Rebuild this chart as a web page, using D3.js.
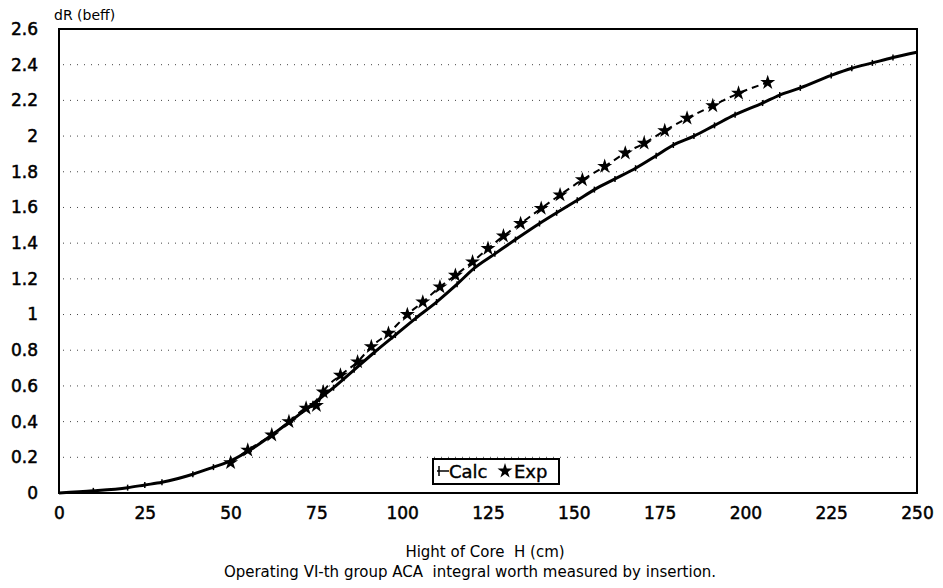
<!DOCTYPE html>
<html>
<head>
<meta charset="utf-8">
<script src="https://cdn.jsdelivr.net/npm/d3@7"></script>
<style>
  body { margin: 0; background: #fff; }
  text { font-family: "DejaVu Sans", sans-serif; fill: #000; }
</style>
</head>
<body>
<script>
// calculated curve: height of core H (cm) -> dR (beff)
const calcH = [0, 10, 20, 25, 30, 39, 45, 50, 56, 62, 68, 74, 80, 86, 92, 98, 104, 110, 116, 121, 127, 133, 140, 145, 151, 156, 162, 168, 174, 179, 185, 191, 197, 205, 210, 216, 225, 231, 237, 243, 250]
const calcR = [0, 0.012, 0.03, 0.045, 0.06, 0.105, 0.145, 0.18, 0.245, 0.325, 0.41, 0.5, 0.59, 0.69, 0.79, 0.885, 0.98, 1.07, 1.17, 1.26, 1.34, 1.42, 1.51, 1.57, 1.64, 1.70, 1.76, 1.82, 1.89, 1.95, 2.0, 2.06, 2.12, 2.185, 2.23, 2.27, 2.34, 2.38, 2.41, 2.44, 2.47]

// measured points
const expH = [50, 55, 62, 67, 72, 75, 77, 82, 87, 91, 96, 101.5, 106, 111, 115.5, 120.5, 125, 129.5, 134.5, 140.5, 146, 152.5, 159, 165, 170.5, 176.5, 183, 190.5, 198, 206.5]
const expR = [0.17, 0.24, 0.325, 0.40, 0.475, 0.49, 0.566, 0.66, 0.735, 0.82, 0.895, 1.0, 1.07, 1.155, 1.22, 1.295, 1.37, 1.44, 1.51, 1.595, 1.67, 1.755, 1.83, 1.905, 1.96, 2.03, 2.10, 2.17, 2.24, 2.30]

const xTicks = [0, 25, 50, 75, 100, 125, 150, 175, 200, 225, 250]
const yTicks = [0, 0.2, 0.4, 0.6, 0.8, 1, 1.2, 1.4, 1.6, 1.8, 2, 2.2, 2.4, 2.6]
const gridY = [0.2, 0.4, 0.6, 0.8, 1, 1.2, 1.4, 1.6, 1.8, 2, 2.2, 2.4]

const width = 943
const height = 588
const plotL = 59, plotR = 917, plotT = 29, plotB = 493

const calc = calcH.map((h, i) => ({h: h, r: calcR[i]}))
const exp = expH.map((h, i) => ({h: h, r: expR[i]}))

const sx = d3.scaleLinear().domain([0, 250]).range([plotL, plotR])
const sy = d3.scaleLinear().domain([0, 2.6]).range([plotB, plotT])

const svg = d3.select("body")
    .append("svg")
    .attr("width", width)
    .attr("height", height)

svg.append("rect")
    .attr("width", width)
    .attr("height", height)
    .attr("fill", "#fff")

// dotted grid

svg.append("g")
    .selectAll("line")
    .data(gridY)
    .enter().append("line")
    .attr("x1", plotL + 4)
    .attr("x2", plotR - 4)
    .attr("y1", d => sy(d))
    .attr("y2", d => sy(d))
    .attr("stroke", "#444")
    .attr("stroke-width", 1)
    .attr("stroke-dasharray", "1,6")

// axes

const xAxis = svg.append("g")
    .attr("transform", `translate(0,${plotB})`)
    .call(d3.axisBottom(sx).tickValues(xTicks).tickSize(0).tickPadding(14).tickFormat(d => String(d)))
xAxis.select(".domain").remove()

const yAxis = svg.append("g")
    .attr("transform", `translate(${plotL},0)`)
    .call(d3.axisLeft(sy).tickValues(yTicks).tickSize(0).tickPadding(21).tickFormat(d => String(d)))
yAxis.select(".domain").remove()

svg.selectAll(".tick text")
    .attr("font-size", 17)
    .attr("font-family", "DejaVu Sans")
    .attr("stroke", "#000")
    .attr("stroke-width", 0.5)

// frame

svg.append("rect")
    .attr("x", plotL)
    .attr("y", plotT)
    .attr("width", plotR - plotL)
    .attr("height", plotB - plotT)
    .attr("fill", "none")
    .attr("stroke", "#000")
    .attr("stroke-width", 2)

// lines

const line = d3.line()
    .x(d => sx(d.h))
    .y(d => sy(d.r))
    .curve(d3.curveMonotoneX)

svg.append("path")
    .datum(exp)
    .attr("d", line)
    .attr("fill", "none")
    .attr("stroke", "#000")
    .attr("stroke-width", 2)
    .attr("stroke-dasharray", "7,5")

svg.append("path")
    .datum(calc)
    .attr("d", line)
    .attr("fill", "none")
    .attr("stroke", "#000")
    .attr("stroke-width", 3)

svg.append("g")
    .selectAll("line")
    .data(calc.filter(d => d.h > 0 && d.h < 250))
    .enter().append("line")
    .attr("x1", d => sx(d.h))
    .attr("x2", d => sx(d.h))
    .attr("y1", d => sy(d.r) - 3)
    .attr("y2", d => sy(d.r) + 3)
    .attr("stroke", "#000")
    .attr("stroke-width", 1.5)

const star = d3.symbol().type(d3.symbolStar).size(70)

svg.append("g")
    .selectAll("path")
    .data(exp)
    .enter().append("path")
    .attr("d", star)
    .attr("transform", d => `translate(${sx(d.h)},${sy(d.r)})`)
    .attr("fill", "#000")

// legend

const lg = svg.append("g").attr("transform", "translate(433,459)")
lg.append("rect")
    .attr("width", 126)
    .attr("height", 25)
    .attr("fill", "#fff")
    .attr("stroke", "#000")
    .attr("stroke-width", 2)
lg.append("line")
    .attr("x1", 4).attr("x2", 16).attr("y1", 12).attr("y2", 12)
    .attr("stroke", "#000").attr("stroke-width", 1.5)
lg.append("line")
    .attr("x1", 6).attr("x2", 6).attr("y1", 7).attr("y2", 17)
    .attr("stroke", "#000").attr("stroke-width", 1.5)
lg.append("text")
    .attr("x", 16).attr("y", 19)
    .attr("font-size", 18)
    .attr("stroke", "#000").attr("stroke-width", 0.4)
    .text("Calc")
lg.append("path")
    .attr("d", star)
    .attr("transform", "translate(72,12)")
lg.append("text")
    .attr("x", 81).attr("y", 19)
    .attr("font-size", 18)
    .attr("stroke", "#000").attr("stroke-width", 0.4)
    .text("Exp")

// titles

svg.append("text")
    .attr("x", 54).attr("y", 20)
    .attr("font-size", 14)
    .text("dR (beff)")

svg.append("text")
    .attr("x", 485).attr("y", 557)
    .attr("text-anchor", "middle")
    .attr("font-size", 15)
    .style("white-space", "pre")
    .text("Hight of Core  H (cm)")

svg.append("text")
    .attr("x", 470).attr("y", 577)
    .attr("text-anchor", "middle")
    .attr("font-size", 15)
    .style("white-space", "pre")
    .text("Operating VI-th group ACA  integral worth measured by insertion.")
</script>
</body>
</html>
